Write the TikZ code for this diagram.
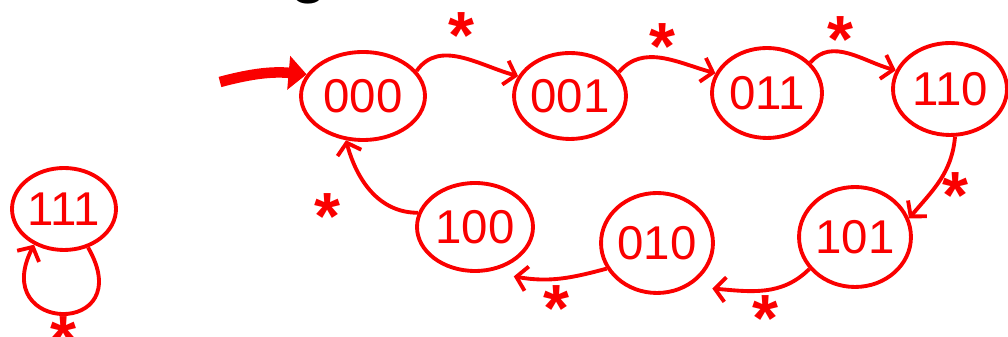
\documentclass[tikz,border=0pt]{standalone}
\usepackage{fontspec}
\setmainfont{Liberation Sans}
\usetikzlibrary{shapes.geometric,arrows.meta}
\definecolor{pen}{RGB}{250,0,0}
\newcommand{\tstar}{\raisebox{-13.5pt}[11pt][0pt]{*}}

\begin{document}
\begin{tikzpicture}[x=0.02cm,y=0.02cm,
    state/.style={ellipse,draw=pen,line width=2.2pt,inner sep=0pt,text=pen,font=\fontsize{27}{27}\selectfont},
    trans/.style={draw=pen,line width=2.2pt,-{Straight Barb[length=6pt,width=14pt]}},
    star/.style={text=pen,font=\bfseries\fontsize{38}{38}\selectfont,inner sep=1pt}]
    \useasboundingbox (0,0) rectangle (1008,337);
    % cut-off title
    \node[anchor=base,font=\fontsize{40}{40}\selectfont] (title) at (309,347) {g};
    % states
    \node[state,minimum width=2.48cm,minimum height=1.76cm] (s000) at (363,241) {000};
    \node[state,minimum width=2.08cm,minimum height=1.72cm] (s001) at (570,241) {001};
    \node[state,minimum width=2.2cm,minimum height=1.8cm] (s011) at (767,244) {011};
    \node[state,minimum width=2.28cm,minimum height=1.84cm] (s110) at (950,248) {110};
    \node[state,minimum width=2.2cm,minimum height=2cm] (s101) at (855,100) {101};
    \node[state,minimum width=2.2cm,minimum height=2cm] (s010) at (657,94) {010};
    \node[state,minimum width=2.32cm,minimum height=1.76cm] (s100) at (475,110) {100};
    \node[state,minimum width=2.08cm,minimum height=1.64cm] (s111) at (64,128) {111};
    % initial arrow
    \coordinate (init) at (220,255);
    \draw[pen,line width=6pt,-{Triangle[length=0.36cm,width=0.66cm]}] (init) to[bend left=10] (s000.159);
    % transitions
    \draw[trans] (s000.25) to[out=55,in=165] node[star,above=11pt] {\tstar} (s001.159);
    \draw[trans] (s001.26) to[out=50,in=165] node[star,above=5pt] {\tstar} (s011.159);
    \draw[trans] (s011.35) to[out=50,in=165] node[star,above=5pt,pos=0.4] {\tstar} (s110.161);
    \draw[trans] (s110.-84) to[out=-95,in=50] node[star,right=1pt,pos=0.56] {\tstar} (s101.19);
    \draw[trans] (s101.215) to[out=225,in=-5] node[star,below=2.5pt] {\tstar} ([shift={(13,-10)}]s010.-40);
    \draw[trans] (s010.207) to[out=195,in=-10] node[star,below=3.5pt,pos=0.55] {\tstar} ([shift={(8,-10)}]s100.-52);
    \draw[trans] (s100.166) to[out=180,in=-75] node[star,below left,xshift=-0.54cm,yshift=-1pt] {\tstar} (s000.249);
    \draw[trans] (s111.-58) .. controls +(52,-90) and +(-46,-90) .. node[star,below=1pt] {\tstar} (s111.230);
\end{tikzpicture}
\end{document}
